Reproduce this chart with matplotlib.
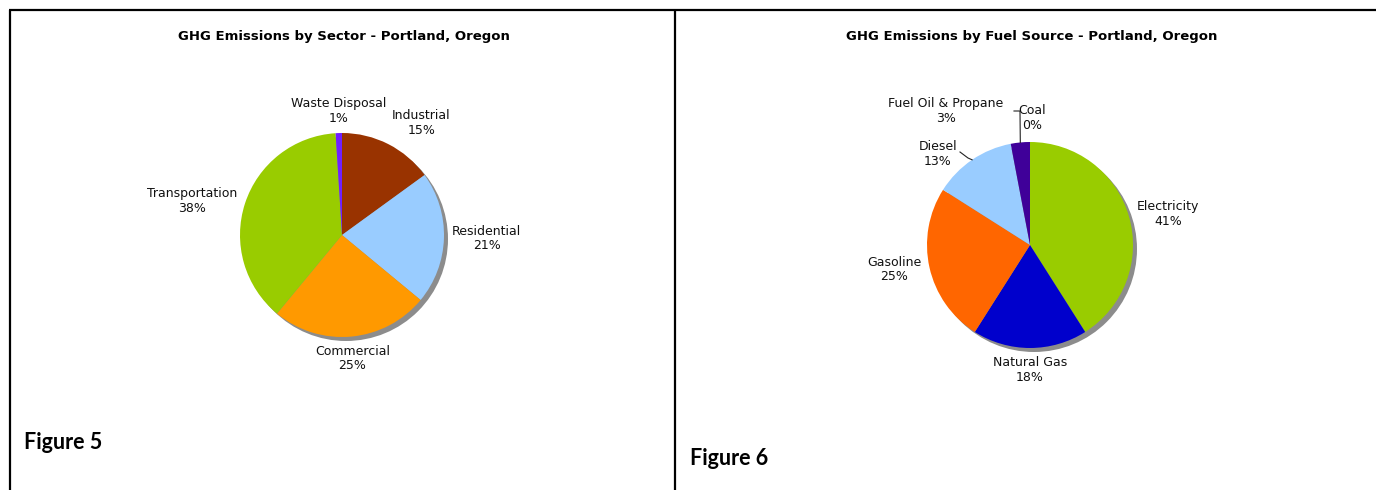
import numpy as np
import matplotlib.pyplot as plt
from matplotlib.patches import Circle

# data
sector_labels = ['Industrial', 'Residential', 'Commercial', 'Transportation', 'Waste Disposal']
sector_values = [15, 21, 25, 38, 1]
sector_colors = ['#993300', '#99CCFF', '#FF9900', '#99CC00', '#7020FF']

fuel_labels = ['Electricity', 'Natural Gas', 'Gasoline', 'Diesel', 'Fuel Oil & Propane', 'Coal']
fuel_values = [41, 18, 25, 13, 3, 0]
fuel_colors = ['#99CC00', '#0000CC', '#FF6600', '#99CCFF', '#3F0099', '#993300']

W, H = 1376, 490
fig = plt.figure(figsize=(W / 100, H / 100), dpi=100)
ax = fig.add_axes([0, 0, 1, 1])

LBL = dict(fontsize=9, linespacing=1.15, family='DejaVu Sans', color='#111111',
           multialignment='center', zorder=4)


def py(y):
    # pixel row from top -> axes y
    return H - y


def draw_pie(cx, cy, r, values, labels, colors, overrides={}):
    ax.add_patch(Circle((cx + 4, py(cy) - 4), r, color='#8c8c8c', lw=0, zorder=1))
    wedges, _ = ax.pie(values, colors=colors, startangle=90, counterclock=False,
                       center=(cx, py(cy)), radius=r, wedgeprops=dict(linewidth=0, zorder=2))
    for w, lab, v in zip(wedges, labels, values):
        a = np.deg2rad((w.theta1 + w.theta2) / 2)
        c, s = np.cos(a), np.sin(a)
        txt = f'{lab}\n{v}%'
        if lab in overrides:
            (tx, ty), ha, va, line = overrides[lab]
            ax.text(tx, py(ty), txt, ha=ha, va=va, **LBL)
            if line is not None:
                ex, ey = cx + r * c, py(cy) + r * s
                pts = [(ex, ey)] + [(p[0], py(p[1])) for p in line]
                xs, ys = zip(*pts)
                ax.plot(xs, ys, color='#222222', lw=0.8, zorder=3)
            continue
        d = r * 1.08
        ha = 'left' if c > 0.2 else ('right' if c < -0.2 else 'center')
        va = 'bottom' if s > 0.5 else ('top' if s < -0.5 else 'center')
        ax.text(cx + d * c, py(cy) + d * s, txt, ha=ha, va=va, **LBL)


draw_pie(342, 235, 102, sector_values, sector_labels, sector_colors)
draw_pie(1030, 245, 103, fuel_values, fuel_labels, fuel_colors, overrides={
    'Diesel': ((938, 154), 'center', 'center', [(968, 158), (960, 152)]),
    'Fuel Oil & Propane': ((946, 111), 'center', 'center', [(1020, 111), (1014, 111)]),
    'Coal': ((1032, 118), 'center', 'center', None),
})

# titles
ax.text(344, py(37), 'GHG Emissions by Sector - Portland, Oregon', ha='center', va='center',
        fontsize=9.5, fontweight='bold', family='DejaVu Sans')
ax.text(1032, py(37), 'GHG Emissions by Fuel Source - Portland, Oregon', ha='center', va='center',
        fontsize=9.5, fontweight='bold', family='DejaVu Sans')

# figure captions
ax.text(24, py(442), 'Figure 5', ha='left', va='center', fontsize=15.5, fontweight='bold', family='Lato')
ax.text(690, py(458), 'Figure 6', ha='left', va='center', fontsize=15.5, fontweight='bold', family='Lato')

# frame lines
ax.plot([9, W], [py(10), py(10)], color='black', lw=1.6, solid_capstyle='butt')
ax.plot([10, 10], [py(10), 0], color='black', lw=1.6, solid_capstyle='butt')
ax.plot([675, 675], [py(10), 0], color='black', lw=1.6, solid_capstyle='butt')

ax.set_xlim(0, W)
ax.set_ylim(0, H)
ax.set_aspect('auto')
ax.axis('off')

plt.savefig('out.png', dpi=100)
